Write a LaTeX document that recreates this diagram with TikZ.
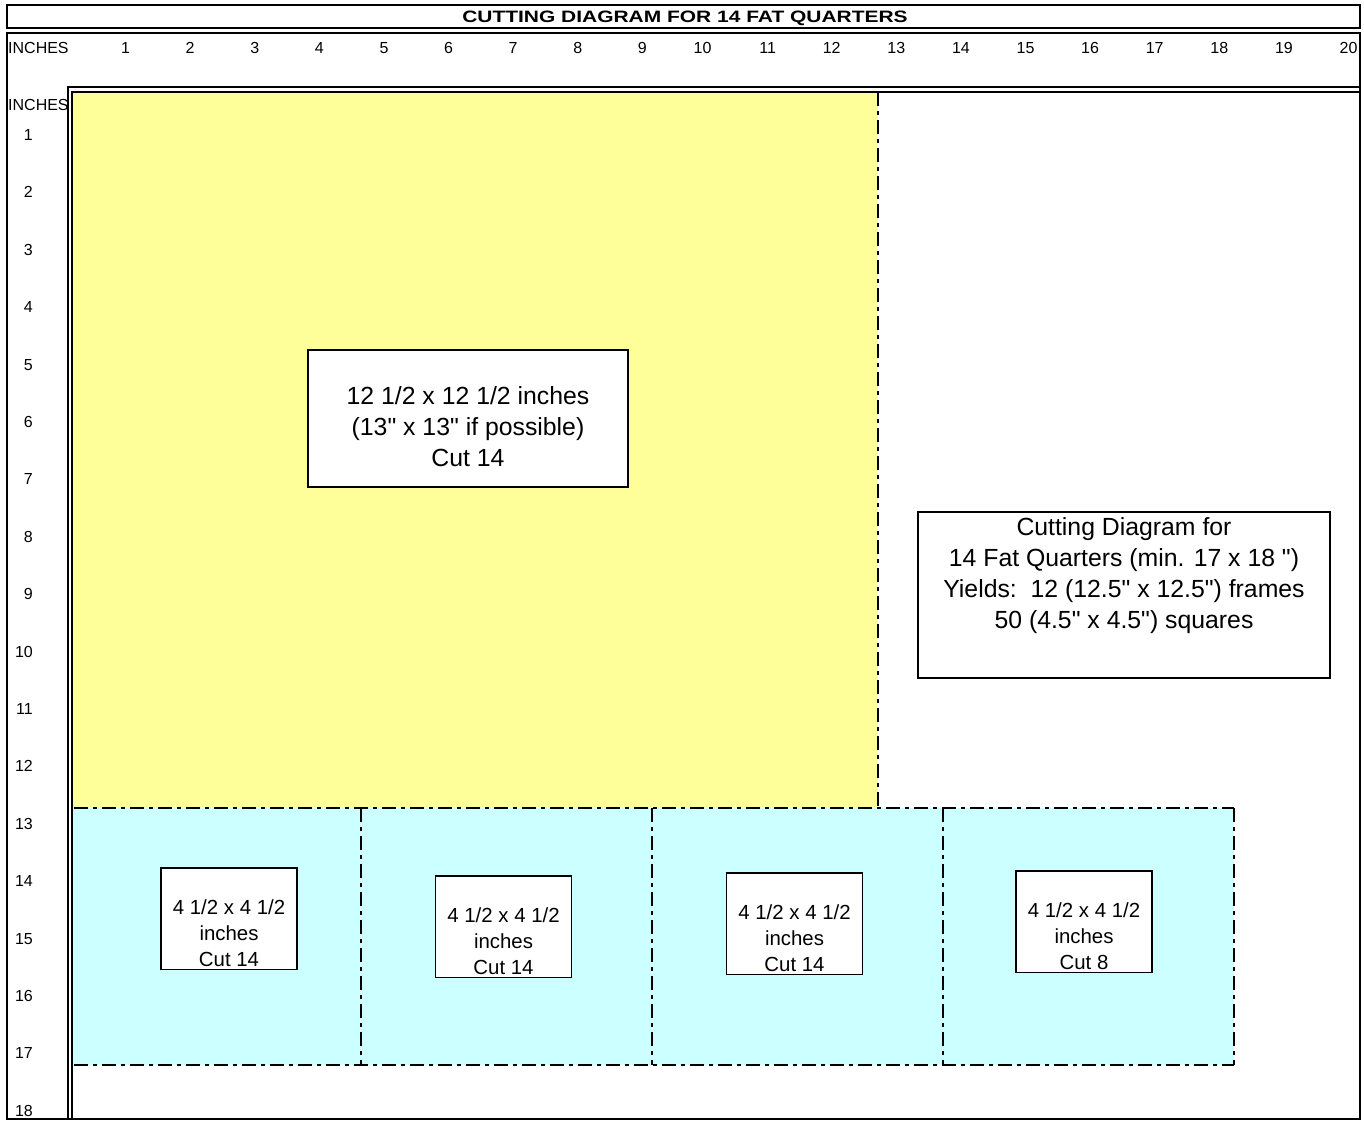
\documentclass[tikz,border=0pt]{standalone}
\usepackage{fontspec}
\usepackage{graphicx}
\usepackage{tikz}
\usetikzlibrary{positioning}
\newfontfamily\cutfont{Liberation Sans}
\definecolor{quarter}{HTML}{FFFF99}
\definecolor{square}{HTML}{CCFFFF}
\tikzstyle{frame}=[line width=2.4pt]
\tikzstyle{rule}=[line width=1.8pt]
\tikzstyle{cutline}=[line width=2pt,dash pattern=on 14pt off 5pt on 4pt off 5pt]
\tikzstyle{ruler}=[inner sep=0pt,anchor=base east,font=\cutfont\fontsize{16}{18}\selectfont]
\tikzstyle{heading}=[inner sep=0pt,anchor=base,font=\cutfont\bfseries\fontsize{16.5}{18}\selectfont]
\tikzstyle{bigcut}=[rectangle,draw,fill=white,line width=1.2pt,align=center,inner sep=0pt,anchor=base,minimum width=320pt,font=\cutfont\fontsize{24.8}{31}\selectfont]
\tikzstyle{smallcut}=[rectangle,draw,fill=white,line width=1.2pt,align=center,inner sep=0pt,anchor=base,minimum width=136pt,text height=98pt,text depth=3.5pt,font=\cutfont\fontsize{20.4}{26}\selectfont]

\begin{document}
\begin{tikzpicture}[x=1pt,y=-1pt]
\useasboundingbox (0,0) rectangle (1364,1121);
% fabric
\fill[quarter] (72,91) rectangle (878,808);
\fill[square] (72,808) rectangle (1234,1065);
% rulers
\node[ruler,anchor=base west] (topunit) at (8,53.5) {INCHES};
\node[ruler,anchor=base west] (sideunit) at (8,110.5) {INCHES};
\foreach \i in {1,...,20}
  \node[ruler] (top\i) at ({130.2+(\i-1)*64.6},53.5) {\i};
\foreach \i in {1,...,18}
  \node[ruler] (side\i) at (33,{140.5+(\i-1)*57.4}) {\i};
% frames
\draw[frame] (7,5.3) rectangle (1360,28);
\node[heading] (title) at (685,22.5) {\scalebox{1.27}[1]{CUTTING DIAGRAM FOR 14 FAT QUARTERS}};
\draw[frame] (7.2,33) rectangle (1360,1119);
\draw[rule] (67.7,1119) -- (67.7,87) -- (1360,87);
\draw[rule] (71.9,1119) -- (71.9,91.7) -- (1360,91.7);
% cutting lines
\draw[cutline] (878,92) -- (878,808);
\draw[cutline] (74,808) -- (1234,808);
\draw[cutline] (74,1065) -- (1234,1065);
\foreach \x in {361,652,943,1234}
  \draw[cutline] (\x,808) -- (\x,1065);
% pieces
\node[bigcut,text height=116.5pt,text depth=20.5pt] (big) at (468,466.5) {12 1/2 x 12 1/2 inches\\(13" x 13" if possible)\\Cut 14};
\node[bigcut,minimum width=412pt,text height=116.5pt,text depth=49.5pt] (info) at (1124,628.5) {Cutting Diagram for\\14 Fat Quarters (min. 17 x 18 ")\\Yields:\ \ 12 (12.5" x 12.5") frames\\50 (4.5" x 4.5") squares};
\node[smallcut] (sq1) at (229,966) {4 1/2 x 4 1/2\\inches\\Cut 14};
\node[smallcut] (sq2) at (503.5,974) {4 1/2 x 4 1/2\\inches\\Cut 14};
\node[smallcut] (sq3) at (794.5,971) {4 1/2 x 4 1/2\\inches\\Cut 14};
\node[smallcut] (sq4) at (1084,969) {4 1/2 x 4 1/2\\inches\\Cut 8};
\end{tikzpicture}
\end{document}
